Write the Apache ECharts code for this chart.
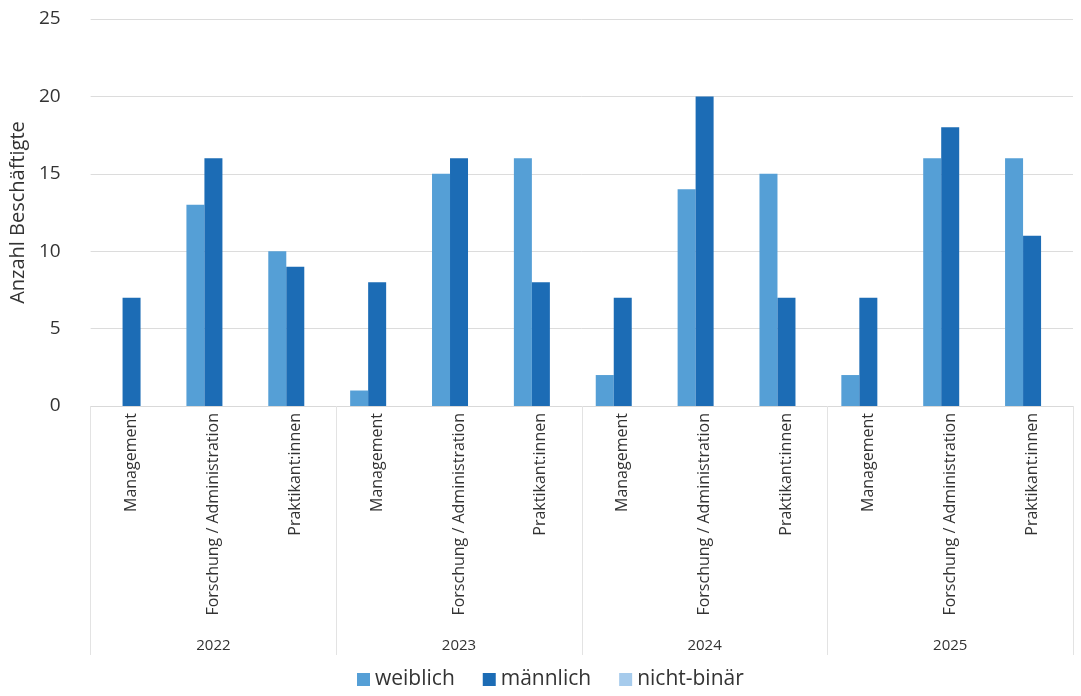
<!DOCTYPE html>
<html>
<head>
<meta charset="utf-8">
<script src="https://cdn.jsdelivr.net/npm/echarts@6/dist/echarts.min.js"></script>
<style>html,body{margin:0;padding:0;background:#fff}#c{width:1081px;height:696px}</style>
</head>
<body>
<div id="c"></div>
<script>
const years = ['2022', '2023', '2024', '2025'];
const roles = ['Management', 'Forschung / Administration', 'Praktikant:innen'];
const weiblich   = [0, 13, 10,  1, 15, 16,  2, 14, 15,  2, 16, 16];
const maennlich  = [7, 16,  9,  8, 16,  8,  7, 20,  7,  7, 18, 11];
const nichtBinaer= [0,  0,  0,  0,  0,  0,  0,  0,  0,  0,  0,  0];
const yTicks = [0, 5, 10, 15, 20, 25];

const categories = [];
years.forEach(() => roles.forEach(r => categories.push(r)));

const font = '"Open Sans", "Liberation Sans", sans-serif';
const chart = echarts.init(document.getElementById('c'), null, {renderer: 'canvas'});
chart.setOption({
  animation: false,
  textStyle: {fontFamily: font},
  grid: {left: 87, right: 8, top: 19, bottom: 290, containLabel: false},
  legend: {
    bottom: 1, left: 352, itemWidth: 13, itemHeight: 13, itemGap: 28,
    icon: 'rect',
    textStyle: {fontSize: 21, color: '#333', fontFamily: font},
    data: ['weiblich', 'männlich', 'nicht-binär']
  },
  xAxis: [
    {
      type: 'category', data: categories, position: 'bottom',
      axisLine: {show: true, lineStyle: {color: '#d9d9d9'}},
      axisTick: {show: false},
      axisLabel: {rotate: 90, interval: 0, fontSize: 16, color: '#333', margin: 7, fontFamily: font}
    },
    {
      type: 'category', data: years, position: 'bottom', offset: 249,
      axisLine: {show: false},
      axisTick: {show: true, inside: true, length: 249, lineStyle: {color: '#e3e3e3'}},
      axisLabel: {fontSize: 15, color: '#333', margin: -17, fontFamily: font},
      splitLine: {show: false}
    }
  ],
  yAxis: {
    type: 'value', min: yTicks[0], max: yTicks[yTicks.length - 1], interval: 5,
    name: 'Anzahl Beschäftigte', nameLocation: 'middle', nameGap: 56, nameRotate: 90,
    nameTextStyle: {fontSize: 20, color: '#333', fontFamily: font},
    axisLine: {show: false}, axisTick: {show: false},
    axisLabel: {fontSize: 19, color: '#333', margin: 30, fontFamily: font},
    splitLine: {lineStyle: {color: '#dcdcdc'}}
  },
  series: [
    {name: 'weiblich', type: 'bar', data: weiblich, barWidth: 18, barGap: '0%', itemStyle: {color: '#559fd6'}},
    {name: 'männlich', type: 'bar', data: maennlich, barWidth: 18, barGap: '0%', itemStyle: {color: '#1c6cb5'}},
    {name: 'nicht-binär', type: 'bar', data: nichtBinaer, barWidth: 18, barGap: '0%', itemStyle: {color: '#a6cbec'}}
  ]
});
</script>
</body>
</html>
